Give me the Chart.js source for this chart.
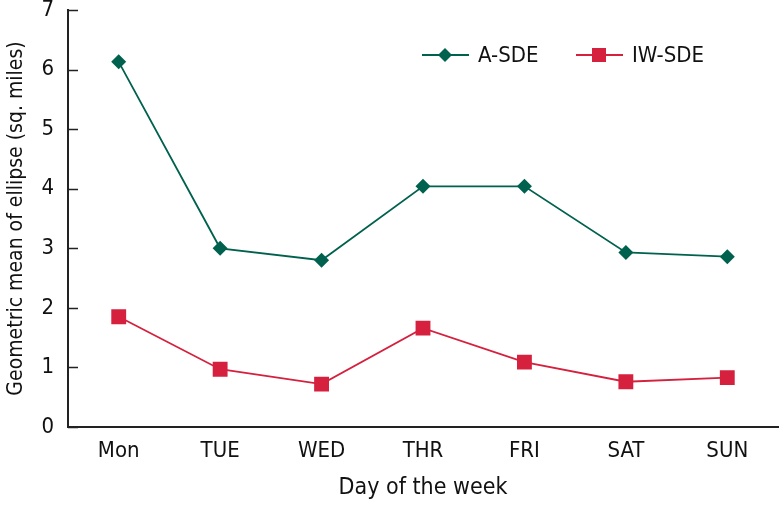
<!DOCTYPE html>
<html>
<head>
<meta charset="utf-8">
<script src="https://cdn.jsdelivr.net/npm/chart.js@4/dist/chart.umd.min.js"></script>
<style>
  html, body { margin: 0; padding: 0; background: #fff; }
  #wrap { width: 779px; height: 506px; }
</style>
</head>
<body>
<div id="wrap"><canvas id="dayChart" width="779" height="506"></canvas></div>
<script>
const days = ["Mon", "TUE", "WED", "THR", "FRI", "SAT", "SUN"];
const aSde = [6.13, 3.0, 2.8, 4.04, 4.04, 2.93, 2.86];
const iwSde = [1.85, 0.97, 0.72, 1.66, 1.09, 0.76, 0.83];
const yTicks = [0, 1, 2, 3, 4, 5, 6, 7];

const FONT = "'Liberation Sans Narrow', 'DejaVu Sans Condensed', 'Roboto Condensed', sans-serif";
const GREEN = "#00614f";
const RED = "#d5203e";

// tick marks that point into the plot, and the legend in the top right
const extras = {
  id: "extras",
  afterDraw(chart) {
    const c = chart.ctx;
    const y = chart.scales.y;
    const left = chart.chartArea.left;
    c.save();
    c.strokeStyle = "#222";
    c.lineWidth = 1.5;
    c.beginPath();
    yTicks.forEach(v => {
      const py = Math.round(y.getPixelForValue(v)) + 0.5;
      c.moveTo(left, py);
      c.lineTo(left + 10, py);
    });
    c.stroke();

    const items = [
      { x: 422, ds: chart.data.datasets[0] },
      { x: 576, ds: chart.data.datasets[1] }
    ];
    const ly = 55;
    c.font = "22px " + FONT;
    c.textBaseline = "middle";
    items.forEach(it => {
      c.strokeStyle = it.ds.borderColor;
      c.lineWidth = 1.8;
      c.beginPath();
      c.moveTo(it.x, ly);
      c.lineTo(it.x + 47, ly);
      c.stroke();
      c.fillStyle = it.ds.backgroundColor;
      const mx = it.x + 23;
      if (it.ds.pointStyle === "rectRot") {
        c.beginPath();
        c.moveTo(mx, ly - 7);
        c.lineTo(mx + 7, ly);
        c.lineTo(mx, ly + 7);
        c.lineTo(mx - 7, ly);
        c.closePath();
        c.fill();
      } else {
        c.fillRect(mx - 7, ly - 7, 14, 14);
      }
      c.fillStyle = "#111";
      c.fillText(it.ds.label, it.x + 56, ly + 1);
    });
    c.restore();
  }
};

function noPad(scale) {
  scale.paddingTop = 0;
  scale.paddingBottom = 0;
  scale.paddingLeft = 0;
  scale.paddingRight = 0;
}

const chart = new Chart(document.getElementById("dayChart"), {
  type: "line",
  data: {
    labels: days,
    datasets: [
      {
        label: "A-SDE",
        data: aSde,
        borderColor: GREEN,
        backgroundColor: GREEN,
        borderWidth: 1.8,
        pointStyle: "rectRot",
        pointRadius: 7.5,
        pointBorderWidth: 0,
        tension: 0
      },
      {
        label: "IW-SDE",
        data: iwSde,
        borderColor: RED,
        backgroundColor: RED,
        borderWidth: 1.8,
        pointStyle: "rect",
        pointRadius: 10.5,
        pointBorderWidth: 0,
        tension: 0
      }
    ]
  },
  options: {
    responsive: false,
    animation: false,
    layout: { autoPadding: false, padding: { top: 10, right: 1, left: 0, bottom: 0 } },
    plugins: {
      legend: { display: false },
      tooltip: { enabled: false }
    },
    scales: {
      x: {
        offset: true,
        grid: { display: false, drawTicks: false },
        border: { color: "#222", width: 2 },
        ticks: { color: "#111", font: { family: FONT, size: 22 }, padding: 11 },
        title: {
          display: true,
          text: "Day of the week",
          color: "#111",
          font: { family: FONT, size: 23 },
          padding: { top: 7 }
        },
        afterFit(scale) { scale.height = 79; noPad(scale); }
      },
      y: {
        min: 0,
        max: 7,
        afterBuildTicks(scale) { scale.ticks = yTicks.map(v => ({ value: v })); },
        grid: { display: false, drawTicks: false },
        border: { color: "#222", width: 2 },
        ticks: { color: "#111", font: { family: FONT, size: 22 }, padding: 14 },
        title: {
          display: true,
          text: "Geometric mean of ellipse (sq. miles)",
          color: "#111",
          font: { family: FONT, size: 21 },
          padding: { bottom: 4 }
        },
        afterFit(scale) { scale.width = 68; noPad(scale); }
      }
    }
  },
  plugins: [extras]
});
</script>
</body>
</html>
